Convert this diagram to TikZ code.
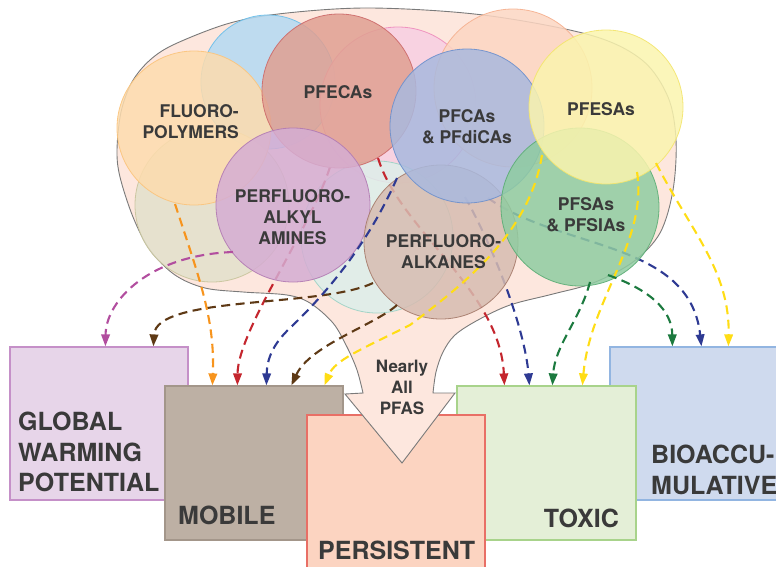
\documentclass[tikz,border=0pt]{standalone}
\usepackage{fontspec}
\setmainfont{TeX Gyre Heros}
\usetikzlibrary{arrows.meta,calc}
\definecolor{lblueF}{HTML}{B3DAF2}\definecolor{lblueD}{HTML}{69BEEA}
\definecolor{pinkF}{HTML}{F8CFE2}\definecolor{pinkD}{HTML}{EE8CBC}
\definecolor{peachF}{HTML}{FCD6C2}\definecolor{peachD}{HTML}{F5B08F}
\definecolor{oliveF}{HTML}{E2E1CC}\definecolor{oliveD}{HTML}{C8C49C}
\definecolor{mintF}{HTML}{DDEFEA}\definecolor{mintD}{HTML}{9DD2C5}
\definecolor{fluoroF}{HTML}{FDDCAE}\definecolor{fluoroD}{HTML}{FBC47C}
\definecolor{pfecasF}{HTML}{E0A092}\definecolor{pfecasD}{HTML}{CD6A6A}
\definecolor{aminesF}{HTML}{D5ADD3}\definecolor{aminesD}{HTML}{B27BB3}
\definecolor{alkanesF}{HTML}{D7BCB1}\definecolor{alkanesD}{HTML}{A67B6B}
\definecolor{pfcasF}{HTML}{A9B9DE}\definecolor{pfcasD}{HTML}{6D90CD}
\definecolor{pfsasF}{HTML}{8FCCA1}\definecolor{pfsasD}{HTML}{5CAD76}
\definecolor{pfesasF}{HTML}{FAF4AE}\definecolor{pfesasD}{HTML}{F3E56C}
\definecolor{gwpF}{HTML}{E7D5E9}\definecolor{gwpD}{HTML}{C590C8}
\definecolor{mobF}{HTML}{BDB0A4}\definecolor{mobD}{HTML}{A3968A}
\definecolor{perF}{HTML}{FCD4C1}\definecolor{perD}{HTML}{E86F66}
\definecolor{toxF}{HTML}{E4EFD7}\definecolor{toxD}{HTML}{A8D38B}
\definecolor{bioF}{HTML}{CFDAEE}\definecolor{bioD}{HTML}{92B5E1}
\definecolor{blobF}{HTML}{FDE7DE}\definecolor{blobD}{HTML}{7A7A7A}
\definecolor{txt}{HTML}{3A3A3A}
\definecolor{cMag}{HTML}{B24E9F}
\definecolor{cBrown}{HTML}{5E3915}
\definecolor{cOrange}{HTML}{F7941D}
\definecolor{cRed}{HTML}{C4262E}
\definecolor{cBlue}{HTML}{2E3A93}
\definecolor{cYellow}{HTML}{FFDD15}
\definecolor{cGreen}{HTML}{1C7A3F}
\begin{document}
\begin{tikzpicture}[x=1pt,y=-1pt,
  circ/.style={circle,inner sep=0pt,line width=0.8pt,fill opacity=0.85,draw opacity=0.9},
  box/.style={rectangle,inner sep=0pt,line width=1.2pt},
  conn/.style={line width=2.1pt,dash pattern=on 9pt off 5.5pt,-{Triangle[length=12pt,width=8.5pt]}},
  lab/.style={text=txt,font=\fontsize{17.5}{21}\selectfont\bfseries,inner sep=0pt,align=center},
  blab/.style={text=txt,font=\fontsize{25}{30.5}\selectfont\bfseries,inner sep=0pt,align=left},
  nlab/.style={text=txt,font=\fontsize{17}{20.8}\selectfont\bfseries,inner sep=0pt,align=center}]
\useasboundingbox (0,0) rectangle (776,566);
\clip (0,0) rectangle (776,566);
% boxes
\node[box,fill=gwpF,draw=gwpD,minimum width=178pt,minimum height=153pt] (gwp) at (99,423.5) {};
\node[box,fill=bioF,draw=bioD,minimum width=180pt,minimum height=153pt] (bio) at (700,423.5) {};
\node[box,fill=mobF,draw=mobD,minimum width=178pt,minimum height=154pt] (mob) at (254,463) {};
\node[box,fill=toxF,draw=toxD,minimum width=179pt,minimum height=154pt] (tox) at (546.5,463) {};
\node[box,fill=perF,draw=perD,minimum width=178pt,minimum height=160pt] (per) at (396,495) {};
% blob with arrow
\draw[fill=blobF,draw=blobD,line width=0.9pt,line join=miter]
  (433,393) -- (455,393) -- (402,463) -- (345,394) -- (363,393)
  -- plot[smooth,tension=0.55] coordinates {(363,393) (357,370) (347,347) (333,323) (310,303) (287,295) (243,292) (205,288) (175,275) (150,250) (133,217) (120,177) (117,150) (121,112) (132,82) (150,60) (175,44) (230,23) (287,13) (372,8) (483,15) (590,35) (642,60) (668,97) (676,140) (673,190) (660,233) (633,262) (593,283) (553,294) (510,305) (478,320) (455,335) (443,352) (436,372) (433,393)} -- cycle;
% background circles
\node[circ,fill=lblueF,draw=lblueD,minimum size=134pt] (lblue) at (268,82) {};
\node[circ,fill=pinkF,draw=pinkD,minimum size=156pt] (pink) at (398,105) {};
\node[circ,fill=peachF,draw=peachD,minimum size=158pt] (peach) at (513,88) {};
\node[circ,fill=oliveF,draw=oliveD,minimum size=154pt] (olive) at (212,205) {};
\node[circ,fill=mintF,draw=mintD,minimum size=152pt] (mint) at (377,237) {};
% coordinates of the named circle centres used below
\coordinate (cfluoro) at (194,128);
\coordinate (cpfecas) at (339,91);
\coordinate (camines) at (293,205);
\coordinate (calkanes) at (441,242);
\coordinate (cpfcas) at (467,126);
\coordinate (cpfsas) at (580,207);
\coordinate (cpfesas) at (606,107);
% connectors drawn beneath the front circles
\draw[conn,draw=cRed] ($(cpfecas)+(-9,76)$) .. controls (310,230) and (238,330) .. ([xshift=73pt]mob.north west);
\draw[conn,draw=cRed] ($(cpfecas)+(39,67)$) .. controls (400,230) and (500,290) .. ([xshift=48pt]tox.north west);
\draw[conn,draw=cBlue] ($(cpfcas)+(-2,71)$) .. controls (495,250) and (525,330) .. ([xshift=73pt]tox.north west);
\draw[conn,draw=cBlue] ($(cpfcas)+(21,72)$) .. controls (560,250) and (690,240) .. ([xshift=92pt]bio.north west);
% front circles
\node[circ,fill=fluoroF,draw=fluoroD,minimum size=154pt] (fluoro) at (cfluoro) {};
\node[circ,fill=pfecasF,draw=pfecasD,minimum size=154pt] (pfecas) at (cpfecas) {};
\node[circ,fill=aminesF,draw=aminesD,minimum size=154pt] (amines) at (camines) {};
\node[circ,fill=alkanesF,draw=alkanesD,minimum size=154pt] (alkanes) at (calkanes) {};
\node[circ,fill=pfcasF,draw=pfcasD,minimum size=154pt] (pfcas) at (cpfcas) {};
\node[circ,fill=pfsasF,draw=pfsasD,minimum size=158pt] (pfsas) at (cpfsas) {};
\node[circ,fill=pfesasF,draw=pfesasD,minimum size=154pt] (pfesas) at (cpfesas) {};
% connectors on top
\draw[conn,draw=cMag] ($(amines)+(-60,47)$) .. controls (150,255) and (106,300) .. ([xshift=96pt]gwp.north west);
\draw[conn,draw=cBrown] ($(alkanes)+(-68,41)$) .. controls (320,308) and (156,295) .. ([xshift=144pt]gwp.north west);
\draw[conn,draw=cOrange] ($(fluoro)+(-19,76)$) .. controls (200,280) and (215,320) .. ([xshift=48pt]mob.north west);
\draw[conn,draw=cBlue] ($(pfcas)+(-70,52)$) .. controls (370,240) and (330,290) .. (290,328) .. controls (272,345) and (267,360) .. ([xshift=102pt]mob.north west);
\draw[conn,draw=cBrown] ($(alkanes)+(-44,63)$) .. controls (375,325) and (310,345) .. ([xshift=127pt]mob.north west);
\draw[conn,draw=cYellow] ($(pfesas)+(-64,48)$) .. controls (530,230) and (470,280) .. (410,325) .. controls (360,350) and (335,360) .. ([xshift=160pt]mob.north west);
\draw[conn,draw=cYellow] ($(pfesas)+(31,65)$) .. controls (648,240) and (590,300) .. ([xshift=126pt]tox.north west);
\draw[conn,draw=cYellow] ($(pfesas)+(50,56)$) .. controls (690,230) and (730,270) .. ([xshift=119pt]bio.north west);
\draw[conn,draw=cGreen] ($(pfsas)+(10,75)$) .. controls (580,320) and (555,345) .. ([xshift=96pt]tox.north west);
\draw[conn,draw=cGreen] ($(pfsas)+(28,68)$) .. controls (650,290) and (672,310) .. ([xshift=63pt]bio.north west);
% circle labels
\node[lab,align=right,anchor=north east] (tfluoro) at (239,104.4) {FLUORO-\\POLYMERS};
\node[lab,anchor=north] (tpfecas) at (338,85.4) {PFECAs};
\node[lab,anchor=north] (tpfcas) at (467,109.4) {PFCAs\\\& PFdiCAs};
\node[lab,anchor=north] (tpfesas) at (601,102.4) {PFESAs};
\node[lab,anchor=north] (tamines) at (292.5,189.4) {PERFLUORO-\\ALKYL\\AMINES};
\node[lab,anchor=north] (talkanes) at (443.5,234.4) {PERFLUORO-\\ALKANES};
\node[lab,anchor=north] (tpfsas) at (586,197.4) {PFSAs\\\& PFSIAs};
% arrow label
\node[nlab,anchor=north] (tnearly) at (402,359.8) {Nearly\\All\\PFAS};
% box labels
\node[blab,anchor=north west] (tgwp) at (18,412) {GLOBAL\\WARMING\\POTENTIAL};
\node[blab,anchor=north west] (tmob) at (178,506) {MOBILE};
\node[blab,anchor=north west] (tper) at (318,541) {PERSISTENT};
\node[blab,anchor=north east] (ttox) at (619,509) {TOXIC};
\node[blab,anchor=north west] (tbio) at (651,445) {BIOACCU-\\MULATIVE};
\end{tikzpicture}
\end{document}
